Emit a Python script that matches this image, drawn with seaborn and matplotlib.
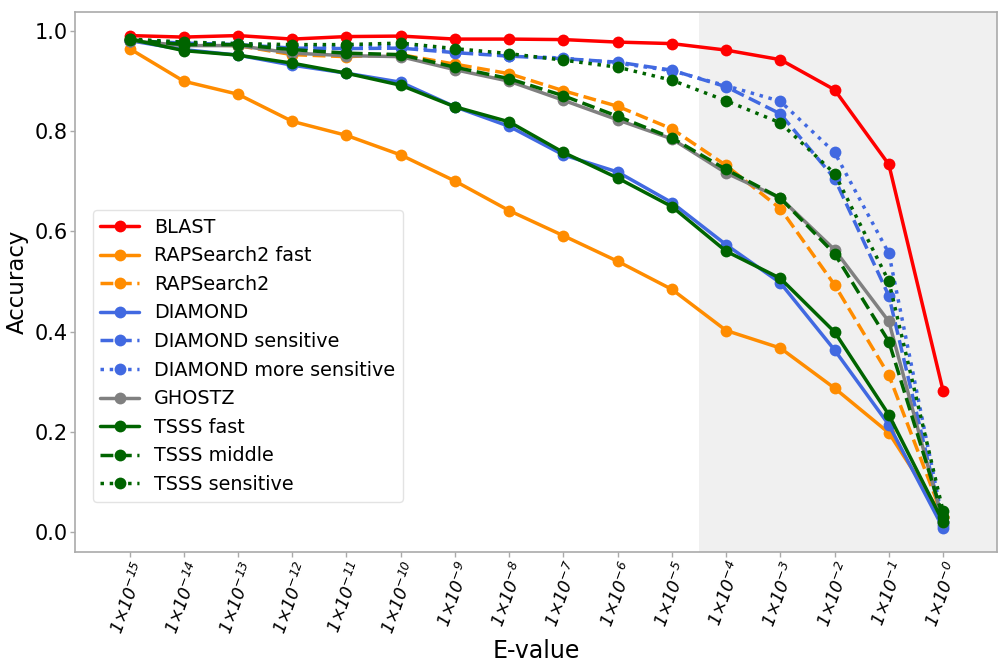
import matplotlib
matplotlib.use("Agg")
import matplotlib.pyplot as plt
import seaborn as sns
import pandas as pd

exponents = [15, 14, 13, 12, 11, 10, 9, 8, 7, 6, 5, 4, 3, 2, 1, 0]
tick_labels = [r"$1{\times}10^{-%d}$" % e for e in exponents]

blast = [0.990, 0.987, 0.990, 0.983, 0.988, 0.989, 0.983, 0.983, 0.982, 0.977, 0.974, 0.961, 0.942, 0.882, 0.733, 0.282]
rap_fast = [0.964, 0.899, 0.873, 0.819, 0.791, 0.752, 0.700, 0.641, 0.591, 0.540, 0.484, 0.402, 0.367, 0.287, 0.198, 0.030]
rap = [0.980, 0.972, 0.970, 0.952, 0.948, 0.952, 0.933, 0.914, 0.880, 0.849, 0.804, 0.731, 0.645, 0.493, 0.313, 0.030]
diamond = [0.980, 0.962, 0.951, 0.931, 0.915, 0.897, 0.848, 0.809, 0.752, 0.718, 0.657, 0.573, 0.497, 0.363, 0.214, 0.008]
diamond_s = [0.980, 0.975, 0.972, 0.965, 0.964, 0.965, 0.956, 0.949, 0.944, 0.937, 0.921, 0.888, 0.834, 0.705, 0.471, 0.015]
diamond_ms = [0.982, 0.976, 0.974, 0.968, 0.968, 0.970, 0.958, 0.950, 0.945, 0.935, 0.920, 0.890, 0.859, 0.757, 0.556, 0.020]
ghostz = [0.980, 0.970, 0.970, 0.955, 0.950, 0.948, 0.922, 0.899, 0.861, 0.822, 0.784, 0.716, 0.666, 0.563, 0.420, 0.020]
tsss_fast = [0.983, 0.960, 0.951, 0.935, 0.915, 0.891, 0.848, 0.818, 0.757, 0.706, 0.649, 0.560, 0.506, 0.399, 0.234, 0.020]
tsss_mid = [0.982, 0.972, 0.972, 0.962, 0.955, 0.952, 0.927, 0.904, 0.870, 0.829, 0.786, 0.723, 0.666, 0.555, 0.380, 0.030]
tsss_sens = [0.983, 0.977, 0.974, 0.972, 0.972, 0.975, 0.964, 0.954, 0.941, 0.927, 0.901, 0.860, 0.816, 0.715, 0.500, 0.042]

series = [
    ("BLAST", blast, "#ff0000", "-"),
    ("RAPSearch2 fast", rap_fast, "#ff8c00", "-"),
    ("RAPSearch2", rap, "#ff8c00", "--"),
    ("DIAMOND", diamond, "#4169e1", "-"),
    ("DIAMOND sensitive", diamond_s, "#4169e1", "--"),
    ("DIAMOND more sensitive", diamond_ms, "#4169e1", ":"),
    ("GHOSTZ", ghostz, "#808080", "-"),
    ("TSSS fast", tsss_fast, "#006400", "-"),
    ("TSSS middle", tsss_mid, "#006400", "--"),
    ("TSSS sensitive", tsss_sens, "#006400", ":"),
]

sns.set_style("white")
plt.rcParams["font.family"] = ["DejaVu Sans"]
plt.rcParams["text.color"] = "black"
plt.rcParams["axes.labelcolor"] = "black"
plt.rcParams["mathtext.fontset"] = "custom"
plt.rcParams["mathtext.rm"] = "DejaVu Sans:italic"
plt.rcParams["mathtext.it"] = "DejaVu Sans:italic"

fig = plt.figure(figsize=(9.98, 6.62), dpi=100)
ax = fig.add_axes([75.3 / 998, 1 - 551.7 / 662, (997.3 - 75.3) / 998, (551.7 - 12) / 662])

ax.axvspan(10.5, 16, color="#f0f0f0", zorder=0, lw=0)

x = list(range(len(exponents)))
for name, vals, col, ls in series:
    df = pd.DataFrame({"x": x, "y": vals})
    sns.lineplot(data=df, x="x", y="y", ax=ax, color=col, linestyle=ls,
                 marker="o", markersize=8.5, markeredgewidth=0, linewidth=2.5,
                 label=name)

ax.set_xlim(-1, 16)
ax.set_ylim(-0.039, 1.037)
ax.set_xticks(x)
ax.set_xticklabels(tick_labels, rotation=70, fontsize=12.5)
ax.set_yticks([0.0, 0.2, 0.4, 0.6, 0.8, 1.0])
ax.set_yticklabels(["0.0", "0.2", "0.4", "0.6", "0.8", "1.0"], fontsize=15)
ax.tick_params(axis="both", length=3.5, width=1, color="#aaaaaa", labelcolor="black",
               left=True, bottom=True, pad=2)
for s in ax.spines.values():
    s.set_color("#aaaaaa")
    s.set_linewidth(1.2)
ax.set_xlabel("E-value", fontsize=17, labelpad=2, color="black")
ax.set_ylabel("Accuracy", fontsize=16.5, labelpad=4, color="black")

leg = ax.legend(loc="upper left", bbox_to_anchor=(0.019, 0.633), borderaxespad=0,
                fontsize=13.8, frameon=True, handlelength=2.0)
leg.get_frame().set_edgecolor("#dddddd")
for t in leg.get_texts():
    t.set_color("black")

fig.savefig("out.png", dpi=100)
